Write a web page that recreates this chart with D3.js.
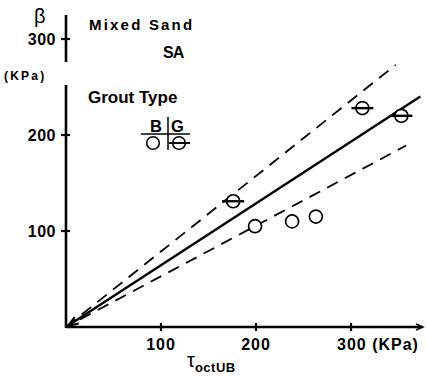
<!DOCTYPE html>
<html><head><meta charset="utf-8">
<script src="https://cdn.jsdelivr.net/npm/d3@7"></script>
<style>
body{margin:0;background:#fff;}
svg{display:block;}
text{font-family:"Liberation Sans",Arial,sans-serif;fill:#000;}
</style></head>
<body>
<script>
// ---- data ----
const xTicks = [100, 200, 300];
const yTicks = [100, 200, 300];
const xTickLabels = ["100", "200", "300 (KPa)"];
const yTickLabels = ["100", "200", "300"];
// Grout type B (open circles)
const groutB_tau = [199, 238, 263];
const groutB_beta = [105, 110, 115];
// Grout type G (circle with bar)
const groutG_tau = [176, 312, 353];
const groutG_beta = [131, 228, 220];
// fitted line and bounds (from origin)
const fitLine = [[0, 0], [373, 240]];
const upperBound = [[0, 0], [347, 273]];
const lowerBound = [[0, 0], [358, 189]];

const W = 426, H = 378;
const x = d3.scaleLinear().domain([0, 300]).range([66, 351]);
const y = d3.scaleLinear().domain([0, 300]).range([327, 39]);

const svg = d3.select("body").append("svg").attr("width", W).attr("height", H);

// axes lines
svg.append("line").attr("x1", x(0)).attr("x2", 422).attr("y1", y(0)).attr("y2", y(0))
  .attr("stroke", "#000").attr("stroke-width", 2.6);
svg.append("path").attr("d", `M416,${y(0)-3} L423,${y(0)} L416,${y(0)+3}`)
  .attr("fill", "none").attr("stroke", "#000").attr("stroke-width", 1.5);
svg.append("line").attr("x1", x(0)).attr("x2", x(0)).attr("y1", y(0) + 1).attr("y2", 85)
  .attr("stroke", "#000").attr("stroke-width", 2.6);
svg.append("line").attr("x1", x(0)).attr("x2", x(0)).attr("y1", 62).attr("y2", 15)
  .attr("stroke", "#000").attr("stroke-width", 2.6);

// ticks
svg.selectAll(".xt").data(xTicks).join("line")
  .attr("x1", d => x(d)).attr("x2", d => x(d)).attr("y1", y(0) - 4).attr("y2", y(0) + 4)
  .attr("stroke", "#000").attr("stroke-width", 2.2);
svg.selectAll(".yt").data(yTicks).join("line")
  .attr("x1", x(0) - 5).attr("x2", x(0) + 4).attr("y1", d => y(d)).attr("y2", d => y(d))
  .attr("stroke", "#000").attr("stroke-width", 2.2);

// tick labels
svg.selectAll(".ytl").data(yTicks).join("text")
  .attr("x", 56).attr("y", d => y(d) + 6).attr("text-anchor", "end")
  .attr("font-size", 16).attr("font-weight", "bold").attr("letter-spacing", 0.5)
  .text((d, i) => yTickLabels[i]);
svg.selectAll(".xtl").data(xTicks).join("text")
  .attr("x", (d, i) => i < 2 ? x(d) : x(d) - 14).attr("y", 350)
  .attr("text-anchor", (d, i) => i < 2 ? "middle" : "start")
  .attr("font-size", 16).attr("font-weight", "bold").attr("letter-spacing", 1)
  .text((d, i) => xTickLabels[i]);

// axis titles
svg.append("text").attr("x", 34).attr("y", 23).attr("font-size", 20).text("β");
svg.append("text").attr("x", 4).attr("y", 80).attr("font-family", "DejaVu Sans Mono")
  .attr("font-size", 12).attr("font-weight", "bold").attr("letter-spacing", 2.2).text("(KPa)");
const tt = svg.append("text").attr("x", 187).attr("y", 367).attr("font-size", 20);
tt.append("tspan").text("τ");
tt.append("tspan").attr("dy", 5).attr("font-size", 13).attr("font-weight", "bold").attr("letter-spacing", 0.5).text("octUB");

// annotations
svg.append("text").attr("x", 89).attr("y", 30).attr("font-family", "DejaVu Sans Mono")
  .attr("font-size", 15).attr("font-weight", "bold").attr("letter-spacing", 2.2).text("Mixed Sand");
svg.append("text").attr("x", 163).attr("y", 58).attr("font-size", 16).attr("font-weight", "bold")
  .attr("letter-spacing", -1).text("SA");
svg.append("text").attr("x", 88).attr("y", 103).attr("font-size", 17).attr("font-weight", "bold").text("Grout Type");
svg.append("text").attr("x", 150).attr("y", 132).attr("font-size", 16.5).attr("font-weight", "bold").text("B");
svg.append("text").attr("x", 171).attr("y", 132).attr("font-size", 16.5).attr("font-weight", "bold").text("G");
svg.append("line").attr("x1", 168).attr("x2", 168).attr("y1", 117).attr("y2", 150).attr("stroke", "#000").attr("stroke-width", 1.5);
svg.append("line").attr("x1", 141).attr("x2", 190).attr("y1", 134).attr("y2", 134).attr("stroke", "#000").attr("stroke-width", 1.5);
svg.append("circle").attr("cx", 153).attr("cy", 143).attr("r", 6.3).attr("fill", "#fff").attr("stroke", "#000").attr("stroke-width", 1.6);
svg.append("circle").attr("cx", 179).attr("cy", 143).attr("r", 6.3).attr("fill", "#fff").attr("stroke", "#000").attr("stroke-width", 1.6);
svg.append("line").attr("x1", 169).attr("x2", 190).attr("y1", 143).attr("y2", 143).attr("stroke", "#000").attr("stroke-width", 2);

// lines
const lineGen = d3.line().x(d => x(d[0])).y(d => y(d[1]));
svg.append("path").attr("d", lineGen(upperBound)).attr("fill", "none").attr("stroke", "#000")
  .attr("stroke-width", 1.8).attr("stroke-dasharray", "12,8");
svg.append("path").attr("d", lineGen(lowerBound)).attr("fill", "none").attr("stroke", "#000")
  .attr("stroke-width", 1.8).attr("stroke-dasharray", "12,8").attr("stroke-dashoffset", 4);
svg.append("path").attr("d", lineGen(fitLine)).attr("fill", "none").attr("stroke", "#000")
  .attr("stroke-width", 2.4);
// small arrow head near origin
{
  const ang = Math.atan2(y(fitLine[1][1]) - y(0), x(fitLine[1][0]) - x(0));
  const ox = x(0) + 2, oy = y(0) - 1, L = 11, w = 0.35;
  svg.append("path").attr("d",
    `M${ox + L*Math.cos(ang - w)},${oy + L*Math.sin(ang - w)} L${ox},${oy} L${ox + L*Math.cos(ang + w)},${oy + L*Math.sin(ang + w)}`)
    .attr("fill", "none").attr("stroke", "#000").attr("stroke-width", 2);
}

// markers
const B = groutB_tau.map((t, i) => ({t, b: groutB_beta[i]}));
const G = groutG_tau.map((t, i) => ({t, b: groutG_beta[i]}));
svg.selectAll(".pb").data(B).join("circle")
  .attr("cx", d => x(d.t)).attr("cy", d => y(d.b)).attr("r", 6.5)
  .attr("fill", "#fff").attr("stroke", "#000").attr("stroke-width", 1.7);
svg.selectAll(".pg").data(G).join("circle")
  .attr("cx", d => x(d.t)).attr("cy", d => y(d.b)).attr("r", 6.5)
  .attr("fill", "#fff").attr("stroke", "#000").attr("stroke-width", 1.7);
svg.selectAll(".pgb").data(G).join("line")
  .attr("x1", d => x(d.t) - 11).attr("x2", d => x(d.t) + 11)
  .attr("y1", d => y(d.b)).attr("y2", d => y(d.b))
  .attr("stroke", "#000").attr("stroke-width", 2.4);
</script>
</body></html>
